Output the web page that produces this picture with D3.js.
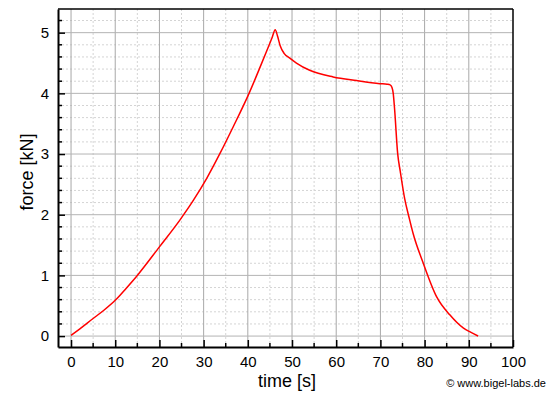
<!DOCTYPE html>
<html>
<head>
<meta charset="utf-8">
<script src="https://d3js.org/d3.v7.min.js"></script>
<style>
  html, body { margin: 0; padding: 0; background: #fff; }
  svg { display: block; font-family: "Liberation Sans", Arial, sans-serif; }
</style>
</head>
<body>
<svg id="chart" width="550" height="394"></svg>
<script>
// force vs time
const timeS = [0, 2, 5, 7.5, 10, 12.5, 15, 20, 24.7, 27.7, 30.7, 33.7, 36.7, 40.1, 43.1, 45.5, 46.2, 46.7, 47.3, 48.2, 49.5, 51, 54, 59.3, 64.6, 69.9, 71.5, 72.2, 72.6, 72.9, 73.2, 73.9, 74.5, 75.5, 76.5, 77.4, 79.7, 82.7, 85.7, 88.8, 90.5, 92.1];
const forceKN = [0.01, 0.12, 0.29, 0.43, 0.59, 0.79, 1.0, 1.47, 1.92, 2.24, 2.60, 3.01, 3.45, 3.97, 4.49, 4.92, 5.05, 4.95, 4.79, 4.66, 4.58, 4.50, 4.38, 4.27, 4.21, 4.16, 4.15, 4.14, 4.10, 4.0, 3.75, 3.01, 2.71, 2.26, 1.95, 1.69, 1.20, 0.65, 0.35, 0.13, 0.06, 0.0];

const xTicks = [0, 10, 20, 30, 40, 50, 60, 70, 80, 90, 100];
const yTicks = [0, 1, 2, 3, 4, 5];

const svg = d3.select('#chart');
const m = { left: 58, top: 9, right: 513, bottom: 347 };

const x = d3.scaleLinear().domain([-2.95, 100]).range([m.left, m.right]);
const y = d3.scaleLinear().domain([-0.18, 5.39]).range([m.bottom, m.top]);

const xMinor = d3.range(0, 101, 5).filter(v => v % 10 !== 0);
const yMinor = d3.range(-0.2, 5.4001, 0.2).map(v => +v.toFixed(1))
  .filter(v => y(v) >= m.top && y(v) <= m.bottom && Math.abs(v - Math.round(v)) > 1e-6);

// ── grid ──
const grid = svg.append('g');
grid.selectAll('.xm').data(xMinor).enter().append('line')
  .attr('x1', d => x(d)).attr('x2', d => x(d)).attr('y1', m.top).attr('y2', m.bottom)
  .attr('stroke', '#d4d4d4').attr('stroke-dasharray', '2,2');
grid.selectAll('.ym').data(yMinor).enter().append('line')
  .attr('x1', m.left).attr('x2', m.right).attr('y1', d => y(d)).attr('y2', d => y(d))
  .attr('stroke', '#d4d4d4').attr('stroke-dasharray', '2,2');
grid.selectAll('.xM').data(xTicks.filter(v => v < 100)).enter().append('line')
  .attr('x1', d => x(d)).attr('x2', d => x(d)).attr('y1', m.top).attr('y2', m.bottom)
  .attr('stroke', '#a8a8a8');
grid.selectAll('.yM').data(yTicks).enter().append('line')
  .attr('x1', m.left).attr('x2', m.right).attr('y1', d => y(d)).attr('y2', d => y(d))
  .attr('stroke', '#b4b4b4');

// ── curve ──
const pts = timeS.map((t, i) => [t, forceKN[i]]);
svg.append('path').datum(pts)
  .attr('fill', 'none').attr('stroke', '#ff0000').attr('stroke-width', 1.5)
  .attr('stroke-linejoin', 'round')
  .attr('d', d3.line().x(d => x(d[0])).y(d => y(d[1])).curve(d3.curveMonotoneX));

// ── frame ──
svg.append('line').attr('x1', m.left).attr('x2', m.right).attr('y1', m.top).attr('y2', m.top)
  .attr('stroke', '#000').attr('stroke-width', 1.5);
svg.append('line').attr('x1', m.right).attr('x2', m.right).attr('y1', m.top).attr('y2', m.bottom)
  .attr('stroke', '#000').attr('stroke-width', 1.5);

// ── axes (ticks point inward) ──
const xAxis = svg.append('g').attr('transform', `translate(0,${m.bottom})`)
  .call(d3.axisBottom(x).tickValues(xTicks).tickFormat(d3.format('d')).tickSize(-7).tickPadding(9).tickSizeOuter(0));
xAxis.append('g').selectAll('line').data(xMinor).enter().append('line')
  .attr('x1', d => x(d)).attr('x2', d => x(d)).attr('y1', 0).attr('y2', -4).attr('stroke', '#000').attr('stroke-width', 1.5);

const yAxis = svg.append('g').attr('transform', `translate(${m.left},0)`)
  .call(d3.axisLeft(y).tickValues(yTicks).tickFormat(d3.format('d')).tickSize(-7).tickPadding(9).tickSizeOuter(0));
yAxis.append('g').selectAll('line').data(yMinor).enter().append('line')
  .attr('x1', 0).attr('x2', 4).attr('y1', d => y(d)).attr('y2', d => y(d)).attr('stroke', '#000').attr('stroke-width', 1.5);

[xAxis, yAxis].forEach(a => {
  a.select('.domain').attr('stroke', '#000').attr('stroke-width', 2);
  a.selectAll('.tick line').attr('stroke', '#000').attr('stroke-width', 1.5);
  a.selectAll('.tick text').attr('font-size', '15px').attr('fill', '#000')
    .attr('font-family', '"Liberation Sans", Arial, sans-serif');
});

// ── labels ──
svg.append('text').attr('x', 287).attr('y', 387).attr('text-anchor', 'middle')
  .attr('font-size', '18px').attr('fill', '#000').text('time [s]');
svg.append('text').attr('transform', 'translate(33,172) rotate(-90)').attr('text-anchor', 'middle')
  .attr('font-size', '18px').attr('fill', '#000').text('force [kN]');
svg.append('text').attr('x', 546).attr('y', 387).attr('text-anchor', 'end')
  .attr('font-size', '11px').attr('fill', '#000').text('© www.bigel-labs.de');
</script>
</body>
</html>
